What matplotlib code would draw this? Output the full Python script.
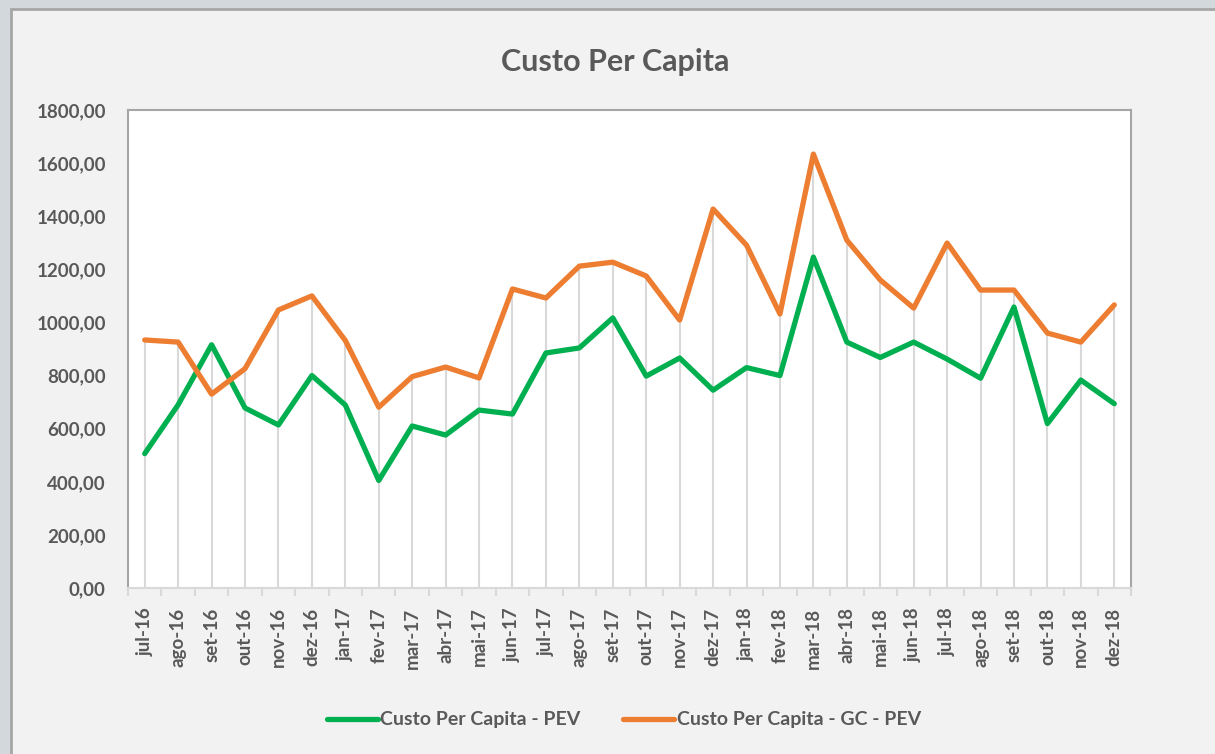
import matplotlib.pyplot as plt
import matplotlib.patches as mpatches
import numpy as np

plt.rcParams['font.family'] = ['Lato', 'DejaVu Sans']

MONTHS = ['jul-16', 'ago-16', 'set-16', 'out-16', 'nov-16', 'dez-16',
          'jan-17', 'fev-17', 'mar-17', 'abr-17', 'mai-17', 'jun-17',
          'jul-17', 'ago-17', 'set-17', 'out-17', 'nov-17', 'dez-17',
          'jan-18', 'fev-18', 'mar-18', 'abr-18', 'mai-18', 'jun-18',
          'jul-18', 'ago-18', 'set-18', 'out-18', 'nov-18', 'dez-18']
PEV = [506, 690, 916, 678, 614, 800, 689, 405, 610, 576, 670, 655,
       885, 904, 1017, 798, 866, 745, 830, 800, 1246, 926, 868, 926,
       862, 790, 1058, 619, 783, 694]
GC_PEV = [934, 926, 730, 826, 1047, 1100, 932, 681, 796, 832, 791, 1126,
          1092, 1212, 1227, 1175, 1009, 1427, 1291, 1032, 1634, 1310, 1160, 1054,
          1299, 1122, 1122, 960, 926, 1066]
Y_TICKS = np.arange(0, 1801, 200)

GREEN = '#00B050'
ORANGE = '#ED7D31'
TXT = '#595959'

fig = plt.figure(figsize=(12.15, 7.54), dpi=100, facecolor='#D3D8DD')
# chart area (Excel-like frame)
fig.patches.append(mpatches.Rectangle((11 / 1215, -0.01), 1.0, 1 - 9 / 754 + 0.01,
                                      transform=fig.transFigure, facecolor='#F2F2F2',
                                      edgecolor='#A6A6A6', linewidth=2, zorder=-5))

ax = fig.add_axes([128 / 1215, 1 - 588 / 754, (1131 - 128) / 1215, (588 - 110) / 754])
ax.set_zorder(2)
ax.set_facecolor('white')

x = np.arange(len(MONTHS))
# drop lines
ax.vlines(x, 0, np.maximum(PEV, GC_PEV), color='#D9D9D9', linewidth=1.5, zorder=1)
ax.plot(x, PEV, color=GREEN, linewidth=3.8, label='Custo Per Capita - PEV',
        solid_joinstyle='round', solid_capstyle='round', zorder=3)
ax.plot(x, GC_PEV, color=ORANGE, linewidth=3.8, label='Custo Per Capita - GC - PEV',
        solid_joinstyle='round', solid_capstyle='round', zorder=3)

ax.set_xlim(-0.5, len(MONTHS) - 0.5)
ax.set_ylim(0, 1800)
ax.set_yticks(Y_TICKS)
ax.set_yticklabels([f'{v},00' for v in Y_TICKS])
ax.tick_params(axis='y', length=0, pad=16, labelsize=13.5, labelcolor=TXT)
for lab in ax.get_yticklabels():
    lab.set_fontweight('bold')

ax.set_xticks(np.arange(-0.5, len(MONTHS), 1.0))
ax.set_xticklabels([])
ax.tick_params(axis='x', which='major', length=6, color='#D9D9D9', width=1.5)
ax.set_xticks(x, minor=True)
ax.set_xticklabels(MONTHS, minor=True, rotation=90, fontsize=13.5,
                   fontweight='bold', color=TXT)
ax.tick_params(axis='x', which='minor', length=0, pad=14)

for side in ['left', 'top', 'right']:
    ax.spines[side].set_color('#A6A6A6')
    ax.spines[side].set_linewidth(1.5)
ax.spines['bottom'].set_color('#D9D9D9')
ax.spines['bottom'].set_linewidth(1.5)

fig.text(615 / 1215, 1 - 62 / 754, 'Custo Per Capita', ha='center', va='center',
         fontsize=22, fontweight='bold', color=TXT)

leg = fig.legend(loc='center', bbox_to_anchor=(624 / 1215, 1 - 720 / 754), ncol=2,
                 frameon=False, fontsize=14, handlelength=2.6, handletextpad=0.15,
                 columnspacing=2.2)
for t in leg.get_texts():
    t.set_color(TXT)
    t.set_fontweight('bold')

fig.savefig('out.png', dpi=100, facecolor=fig.get_facecolor())
